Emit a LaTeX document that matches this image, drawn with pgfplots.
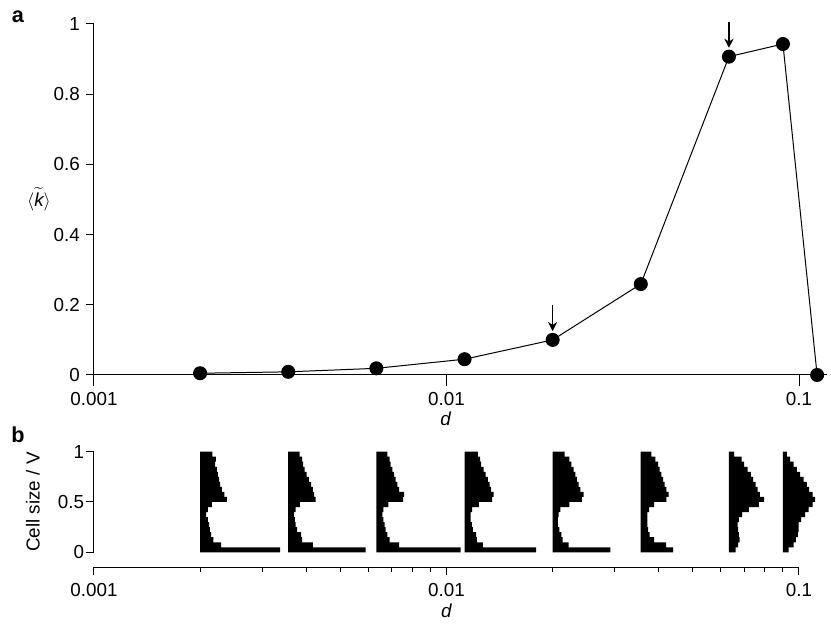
\documentclass[border=0pt]{standalone}
\usepackage{fontspec}
\setmainfont{Liberation Sans}
\usepackage{pgfplots}
\pgfplotsset{compat=1.18}
\usepackage{pgfplotstable}
\usetikzlibrary{arrows.meta}

% histogram widths (pixel units of the original figure; 352.5 = one decade)
\pgfplotstableread{
y    h1   h2   h3   h4   h5   h6   h7   h8
0    0    0    0    0    0    0    0    0
0    80   77.3 84.3 71.7 57.7 32.3 6.7  5.7
0.05 21   24.7 22.7 18.3 16   25.3 9.3  10.7
0.10 13.3 14   13.3 12.3 10   13.3 10.7 13
0.15 11   13   11   11.7 8.7  9    10   15
0.20 9.7  9    9.3  8.3  6.7  7.3  9.3  15.7
0.25 9    7.3  8.3  7.3  5.3  6.7  8.7  15.7
0.30 7.7  6.7  7    6    5.3  6.7  10   18.3
0.35 6    5.7  6    6    6    6.7  13.3 22.3
0.40 7.7  7.3  7    7.7  7.7  8.3  20   25.7
0.45 11.7 11.7 12   14.3 16.7 13.3 30   29.7
0.50 26.7 27.3 26.7 27.7 29.3 25.7 35.3 32.3
0.55 24.3 26   27.7 29   31   28   31   29.7
0.60 21.7 24.7 22.7 26.7 27.7 25.7 28.7 26.3
0.65 20   23   21   25   26   24   26.7 24
0.70 19   20.7 19.3 23.3 24.3 22.3 24.3 20.7
0.75 17.7 18.3 17.7 21   22.7 20.7 22   17.3
0.80 16.7 16.3 16   19   21   19   18.7 14
0.85 15   15   14.3 16.7 18.7 17.3 15.3 10.7
0.90 15.7 14   13.3 15.7 16.7 14.7 12.7 7.3
0.95 12.3 11.3 11   13.3 12   10.7 5.3  4
1    0    0    0    0    0    0    0    0
}\hist

\pgfplotstableread{
d       k
0.002   0.005
0.003557 0.009
0.006325 0.019
0.01125 0.045
0.02    0.100
0.03557 0.259
0.06325 0.907
0.09    0.943
0.1125  0.0
}\kdata

\pgfplotsset{
  noarrows/.style={
    axis line style={-, line width=0.6pt, black},
    every inner x axis line/.append style={-},
    every inner y axis line/.append style={-},
    every outer x axis line/.append style={-},
    every outer y axis line/.append style={-},
    tick style={line width=0.6pt, black},
    tick align=outside,
  },
}

\begin{document}
\begin{tikzpicture}[font=\fontsize{11.3pt}{13pt}\selectfont]
\useasboundingbox (0,0) rectangle (498.6pt,374.4pt);

% ---------- panel a ----------
\begin{axis}[
  at={(56.4pt,149.4pt)}, anchor=south west,
  scale only axis, width=439.8pt, height=210.6pt,
  xmode=log, xmin=0.001, xmax=0.12, ymin=0, ymax=1,
  axis lines=left, noarrows,
  major tick length=5pt, minor tick length=4.6pt,
  xtick=\empty,
  extra x ticks={0.001,0.01,0.1},
  extra x tick labels={\textrm{0.001},\textrm{0.01},\textrm{0.1}},
  extra x tick style={major tick length=6.6pt, xticklabel style={yshift=-0.5pt}},
  minor xtick={0.002,0.003,0.004,0.005,0.006,0.007,0.008,0.009,0.02,0.03,0.04,0.05,0.06,0.07,0.08,0.09},
  ytick={0,0.2,0.4,0.6,0.8,1},
  yticklabels={\textrm{0},\textrm{0.2},\textrm{0.4},\textrm{0.6},\textrm{0.8},\textrm{1}},
  xlabel={\textit{d}},
  ylabel={$\langle\widetilde{\mbox{\itshape k}}\rangle$},
  every axis x label/.style={at={(axis description cs:0.48,0)}, anchor=center, yshift=-26.4pt},
  every axis y label/.style={at={(axis description cs:0,0.5)}, anchor=center, xshift=-33pt},
  clip=false,
]
\addplot[black, line width=0.6pt, mark=*, mark size=3.9pt, mark options={fill=black}]
  table[x=d, y=k]{\kdata};
\draw[-{Stealth[length=5.5pt,width=5.5pt]}, line width=0.8pt] (axis cs:0.02,0.2) -- (axis cs:0.02,0.125);
\draw[-{Stealth[length=5.5pt,width=5.5pt]}, line width=0.8pt] (axis cs:0.06325,1.007) -- (axis cs:0.06325,0.932);
\end{axis}

\node[font=\fontsize{13pt}{15pt}\selectfont\bfseries] at (10.8pt,364.2pt) {a};
\node[font=\fontsize{13pt}{15pt}\selectfont\bfseries] at (10.8pt,113.4pt) {b};

% ---------- panel b : histograms ----------
\begin{axis}[
  at={(56.4pt,43.0pt)}, anchor=south west,
  scale only axis, width=423pt, height=60.4pt,
  xmode=log, xmin=0.001, xmax=0.1, ymin=0, ymax=1,
  axis x line=none, axis y line=left, noarrows,
  major tick length=5pt,
  ytick={0,0.5,1},
  yticklabels={\textrm{0},\textrm{0.5},\textrm{1}},
  yticklabel style={xshift=2.5pt},
  ylabel={Cell size / V},
  every axis y label/.style={at={([xshift=-36.6pt]axis description cs:0,0.5)}, anchor=center, rotate=90},
  clip=false,
]
\addplot[fill=black, draw=none, const plot mark right] table[x expr={0.002*10^(\thisrow{h1}/352.5)}, y=y]{\hist};
\addplot[fill=black, draw=none, const plot mark right] table[x expr={0.003557*10^(\thisrow{h2}/352.5)}, y=y]{\hist};
\addplot[fill=black, draw=none, const plot mark right] table[x expr={0.006325*10^(\thisrow{h3}/352.5)}, y=y]{\hist};
\addplot[fill=black, draw=none, const plot mark right] table[x expr={0.01125*10^(\thisrow{h4}/352.5)}, y=y]{\hist};
\addplot[fill=black, draw=none, const plot mark right] table[x expr={0.02*10^(\thisrow{h5}/352.5)}, y=y]{\hist};
\addplot[fill=black, draw=none, const plot mark right] table[x expr={0.03557*10^(\thisrow{h6}/352.5)}, y=y]{\hist};
\addplot[fill=black, draw=none, const plot mark right] table[x expr={0.06325*10^(\thisrow{h7}/352.5)}, y=y]{\hist};
\addplot[fill=black, draw=none, const plot mark right] table[x expr={0.09*10^(\thisrow{h8}/352.5)}, y=y]{\hist};
\end{axis}

% ---------- panel b : x axis ----------
\begin{axis}[
  at={(56.4pt,34.0pt)}, anchor=south west,
  scale only axis, width=423pt, height=5pt,
  xmode=log, xmin=0.001, xmax=0.1, ymin=0, ymax=1,
  axis y line=none, axis x line=bottom, noarrows,
  major tick length=4.6pt, minor tick length=2.6pt,
  xtick={0.001,0.01,0.1},
  xticklabels={\textrm{0.001},\textrm{0.01},\textrm{0.1}},
  minor xtick={0.002,0.003,0.004,0.005,0.006,0.007,0.008,0.009,0.02,0.03,0.04,0.05,0.06,0.07,0.08,0.09},
  xticklabel style={yshift=-1.2pt},
  xlabel={\textit{d}},
  every axis x label/.style={at={(axis description cs:0.5,0)}, anchor=center, yshift=-26pt},
]
\addplot[draw=none] coordinates {(0.001,0) (0.1,0)};
\end{axis}
\end{tikzpicture}
\end{document}
